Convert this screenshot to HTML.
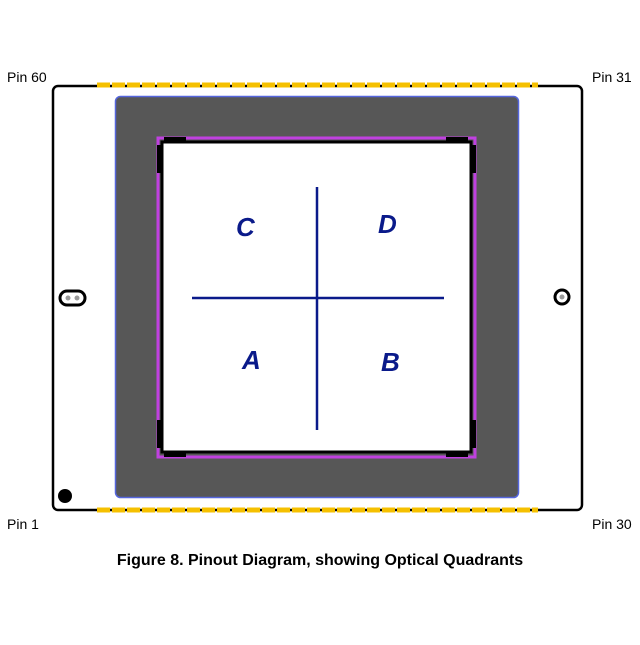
<!DOCTYPE html>
<html><head><style>
body{margin:0;background:#fff;width:640px;height:640px;overflow:hidden}
text{font-family:"Liberation Sans",sans-serif}
</style></head><body>
<svg width="640" height="640" viewBox="0 0 640 640" xmlns="http://www.w3.org/2000/svg">
<rect x="53" y="86" width="529" height="424" rx="5" fill="#fff" stroke="#000" stroke-width="2.5"/>
<line x1="97" y1="85" x2="538" y2="85" stroke="#f5c000" stroke-width="5" stroke-dasharray="13 2"/>
<line x1="97" y1="510" x2="538" y2="510" stroke="#f5c000" stroke-width="5" stroke-dasharray="13 2"/>
<rect x="115.5" y="96.5" width="403" height="401" rx="5" fill="#575757" stroke="#5566dd" stroke-width="1.5"/>
<rect x="158" y="138" width="317" height="319" fill="none" stroke="#c040e0" stroke-width="3"/>
<rect x="162" y="142" width="309" height="310" fill="#fff" stroke="#000" stroke-width="3"/>
<g fill="#000">
<rect x="164" y="137" width="22" height="4"/><rect x="446" y="137" width="22" height="4"/>
<rect x="164" y="453" width="22" height="4"/><rect x="446" y="453" width="22" height="4"/>
<rect x="157" y="145" width="4" height="28"/><rect x="472" y="145" width="4" height="28"/>
<rect x="157" y="420" width="4" height="28"/><rect x="472" y="420" width="4" height="28"/>
</g>
<line x1="317" y1="187" x2="317" y2="430" stroke="#0a1a8a" stroke-width="2.5"/>
<line x1="192" y1="298" x2="444" y2="298" stroke="#0a1a8a" stroke-width="2.5"/>
<g fill="#0a1a8a" font-size="26" font-weight="bold" font-style="italic">
<text x="236" y="236">C</text><text x="378" y="233">D</text>
<text x="242" y="369">A</text><text x="381" y="371">B</text>
</g>
<rect x="60" y="291" width="25" height="14" rx="7" fill="#fff" stroke="#000" stroke-width="3"/>
<circle cx="68" cy="298" r="2.5" fill="#999"/><circle cx="77" cy="298" r="2.5" fill="#999"/>
<circle cx="562" cy="297" r="7" fill="#fff" stroke="#000" stroke-width="3"/>
<circle cx="562" cy="297" r="2.5" fill="#999"/>
<circle cx="65" cy="496" r="7" fill="#000"/>
<g font-size="14" fill="#000">
<text x="7" y="82">Pin 60</text><text x="592" y="82">Pin 31</text>
<text x="7" y="529">Pin 1</text><text x="592" y="529">Pin 30</text>
</g>
<text x="320" y="565" text-anchor="middle" font-size="16" font-weight="bold">Figure 8. Pinout Diagram, showing Optical Quadrants</text>
</svg>
</body></html>
